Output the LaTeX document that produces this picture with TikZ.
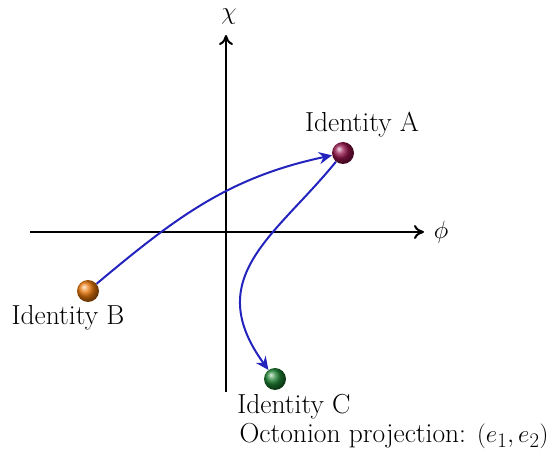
\documentclass[tikz,border=0pt]{standalone}
\usepackage{fontspec}
\usetikzlibrary{arrows.meta,shadings,calc}
\begin{document}
\begin{tikzpicture}[x=1pt,y=1pt,
  axis/.style={line width=2pt,-{To[length=10pt,width=14pt]}},
  conn/.style={draw={rgb,255:red,35;green,35;blue,190},line width=2pt,-{Stealth[length=13pt,width=12pt]}},
  ballnode/.style={circle,minimum size=22pt,inner sep=0pt,shading=ball},
  lab/.style={font=\fontsize{27.5}{32}\selectfont}]
\useasboundingbox (0,0) rectangle (552,461);
\coordinate (xl) at (30,229);
\coordinate (xr) at (424,229);
\coordinate (yb) at (226,69);
\coordinate (yt) at (226,426);
\draw[axis] (xl) -- (xr);
\draw[axis] (yb) -- (yt);
\node[font=\fontsize{27}{32}\selectfont] (chi) at (229,444) {$\chi$};
\node[font=\fontsize{27}{32}\selectfont] (phi) at (441,229) {$\phi$};
\node[ballnode,ball color={rgb,255:red,150;green,20;blue,75}] (A) at (343,308) {};
\node[ballnode,ball color={rgb,255:red,235;green,120;blue,10}] (B) at (88,170) {};
\node[ballnode,ball color={rgb,255:red,30;green,130;blue,50}] (C) at (275,82) {};
\node[lab] (LA) at (362,336) {Identity A};
\node[lab] (LB) at (68,143) {Identity B};
\node[lab] (LC) at (294,54) {Identity C};
\node[lab] (LO) at (394,25) {Octonion projection: $(e_1,e_2)$};
\draw[conn] (B) to[out=40,in=192] (A);
\coordinate (ca) at ($(A.231)+(231:95)$);
\coordinate (cc) at ($(C.126)+(126:115)$);
\draw[conn] (A.231) .. controls (ca) and (cc) .. (C.126);
\end{tikzpicture}
\end{document}
